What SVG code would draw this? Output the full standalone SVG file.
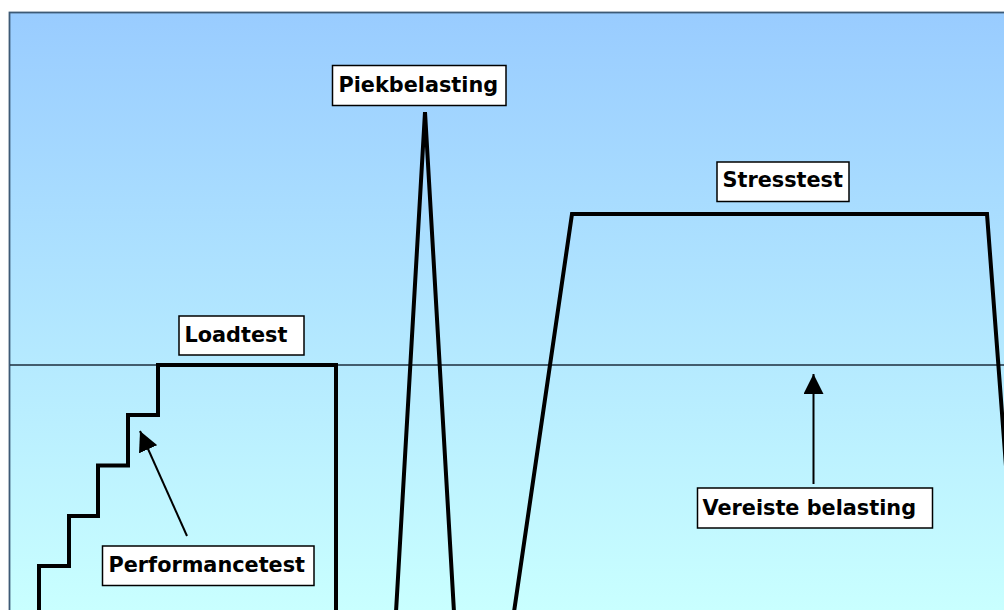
<svg xmlns="http://www.w3.org/2000/svg" width="1004" height="610" viewBox="0 0 1004 610">
<defs>
<linearGradient id="bg" x1="0" y1="13" x2="0" y2="610" gradientUnits="userSpaceOnUse">
<stop offset="0" stop-color="#99ccff"/>
<stop offset="1" stop-color="#c9ffff"/>
</linearGradient>
<marker id="ah" markerUnits="userSpaceOnUse" markerWidth="20" markerHeight="20" refX="20" refY="10" orient="auto" viewBox="0 0 20 20">
<path d="M0,0 L20,10 L0,20 z" fill="#000"/>
</marker>
<style>
.box{fill:#fff;stroke:#000;stroke-width:1.5}
.lbl{font-family:"DejaVu Sans","Verdana",sans-serif;font-weight:bold;font-size:20.8px;fill:#000}
.prof{fill:none;stroke:#000;stroke-width:4;stroke-linejoin:miter}
.conn{stroke:#000;stroke-width:2;fill:none}
</style>
</defs>
<rect x="0" y="0" width="1004" height="610" fill="#fff"/>
<rect x="9.5" y="12.5" width="1100" height="700" fill="url(#bg)" stroke="#3d5a76" stroke-width="1.8"/>
<line x1="10" y1="365" x2="1004" y2="365" stroke="#1c2c3c" stroke-width="1.3"/>
<g id="profiles">
<path class="prof" d="M39,612 V566 H69 V516 H98 V465.5 H128 V415 H158 V365 H336 V612"/>
<path class="prof" d="M396,612 L425,112 L454,612"/>
<path class="prof" d="M514,612 L572,214 H987 L1017,612"/>
</g>
<g id="connectors">
<line class="conn" x1="187" y1="536" x2="140" y2="431" marker-end="url(#ah)"/>
<line class="conn" x1="813.5" y1="484" x2="813.5" y2="374" marker-end="url(#ah)"/>
</g>
<g id="piekbelasting">
<rect class="box" x="332.5" y="65.5" width="173.5" height="40"/>
<text class="lbl" x="338.5" y="92">Piekbelasting</text>
</g>
<g id="stresstest">
<rect class="box" x="717" y="162" width="132" height="39.5"/>
<text class="lbl" x="722.5" y="187">Stresstest</text>
</g>
<g id="loadtest">
<rect class="box" x="179" y="316" width="125" height="39"/>
<text class="lbl" x="184.5" y="342">Loadtest</text>
</g>
<g id="performancetest">
<rect class="box" x="102.5" y="546" width="211.5" height="39.5"/>
<text class="lbl" x="108.5" y="572">Performancetest</text>
</g>
<g id="vereiste">
<rect class="box" x="697.5" y="488" width="235" height="40"/>
<text class="lbl" x="702.5" y="515">Vereiste belasting</text>
</g>
</svg>
